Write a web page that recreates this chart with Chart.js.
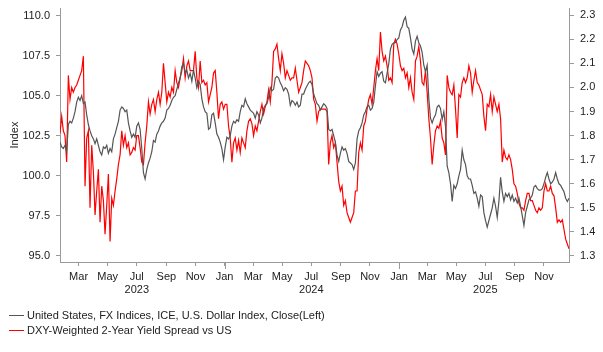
<!DOCTYPE html>
<html>
<head>
<meta charset="utf-8">
<script src="https://cdn.jsdelivr.net/npm/chart.js@4"></script>
<style>
  html, body { margin: 0; padding: 0; background: #fff; }
</style>
</head>
<body>
<canvas id="chart" width="603" height="352"></canvas>
<script>
// twice-weekly observations starting 21 Jan 2023
const startDate = Date.UTC(2023, 0, 21);
const stepDays = 3.5;
const DAY = 86400000;

const dxyClose = [
  102.1, 101.8, 101.7, 101.9, 101.5, 103.2, 103.4, 103.3, 103.6, 104.0,
  104.6, 104.9, 104.7, 105.0, 104.5, 104.6, 103.8, 103.2, 102.8, 102.5,
  102.3, 102.0, 102.3, 101.9, 101.5, 101.3, 101.8, 101.7, 101.9, 101.4,
  101.7, 101.5, 102.3, 102.6, 103.0, 103.4, 104.1, 104.3, 104.2, 104.0,
  104.1, 103.3, 102.8, 102.4, 102.6, 102.4, 103.1, 103.3, 102.9, 101.7,
  100.2, 99.8, 100.4, 100.8, 101.1, 101.5, 102.2, 102.1, 102.6, 102.8,
  103.1, 103.3, 103.4, 103.6, 104.1, 104.2, 104.4, 104.7, 104.9, 105.0,
  105.4, 105.8, 106.1, 106.8, 107.0, 106.4, 106.6, 106.1, 106.4, 105.9,
  106.6, 106.1, 105.5, 105.9, 105.7, 104.8, 104.3, 104.0, 103.9, 102.9,
  103.0, 103.8, 103.9, 103.3, 102.6, 102.4, 102.1, 101.7, 101.0, 101.8,
  102.4, 102.3, 102.5, 103.1, 103.4, 103.3, 103.5, 103.4, 104.0, 104.4,
  104.3, 104.8, 104.5, 104.3, 104.1, 104.0, 103.9, 103.6, 104.0, 103.8,
  103.3, 103.6, 104.2, 104.4, 104.5, 104.9, 105.5, 105.3, 105.4, 106.1,
  106.2, 106.1, 105.8, 105.6, 105.3, 105.5, 105.4, 105.1, 104.4, 104.7,
  104.6, 104.4, 104.6, 104.3, 104.4, 105.1, 105.1, 105.4, 105.6, 105.8,
  105.9, 105.7, 105.1, 104.8, 104.5,
  104.4, 104.1, 104.3, 104.5, 104.4, 104.2, 102.9, 102.8, 102.9, 102.5,
  102.1, 101.3, 100.9, 101.4, 101.8, 101.6, 101.7, 101.4, 100.9, 100.8,
  100.7, 100.4, 100.8, 102.3, 102.8, 103.0, 103.3, 103.8, 104.0, 104.3,
  104.4, 104.1, 104.2, 104.6, 105.6, 106.5, 106.2, 106.4, 106.5, 105.9,
  105.8, 106.4, 107.0, 107.9, 108.2, 108.3, 108.3, 108.5, 108.6, 109.1,
  109.3, 109.7, 109.9, 109.3, 109.2, 108.6, 107.9, 107.6, 108.4, 108.7,
  108.3, 108.1, 107.7, 106.9, 106.5, 106.9, 104.8, 103.6, 103.3, 103.6,
  103.8, 104.3, 104.4, 104.2, 103.5,
  104.0, 103.1, 100.6, 100.2, 99.5, 98.4, 99.4, 99.2, 99.5, 100.0,
  100.4, 101.6, 101.0, 100.7, 100.0, 99.8, 99.8, 99.4, 98.9, 99.0,
  98.6, 98.1, 98.8, 98.7, 97.7, 97.2, 96.8, 97.2, 97.6, 98.0,
  98.6, 98.1, 97.4, 98.4, 99.9, 99.0, 98.4, 98.9, 98.7, 98.9,
  98.5, 98.8, 98.4, 98.6, 98.3, 98.6, 98.1, 97.5, 96.9, 97.7,
  98.1, 98.5, 98.6, 98.8, 99.3, 99.4, 99.2, 99.1, 99.1, 99.2,
  99.5, 99.9, 100.2, 99.8, 99.5, 99.6, 99.8, 100.2, 99.8, 99.5,
  99.4, 99.2, 99.0, 98.6, 98.4, 98.6
];

const yieldSpread = [
  1.81, 1.88, 1.82, 1.80, 1.69, 2.05, 1.95, 2.00, 1.98, 2.00,
  2.01, 2.03, 2.05, 2.07, 2.13, 1.59, 1.79, 1.82, 1.50, 1.76,
  1.65, 1.47, 1.57, 1.66, 1.44, 1.59, 1.53, 1.39, 1.51, 1.64,
  1.36, 1.54, 1.51, 1.57, 1.62, 1.68, 1.72, 1.82, 1.76, 1.80,
  1.75, 1.77, 1.72, 1.73, 1.75, 1.74, 1.80, 1.80, 1.75, 1.69,
  1.68, 1.77, 1.84, 1.94, 1.89, 1.93, 1.95, 1.90, 1.95, 1.98,
  1.93, 1.98, 2.10, 2.02, 1.94, 1.98, 1.96, 2.00, 1.98, 2.07,
  2.02, 2.00, 2.04, 2.07, 2.12, 2.04, 2.09, 2.11, 2.07, 2.07,
  2.07, 2.15, 2.04, 2.00, 2.11, 2.02, 2.03, 2.01, 2.02, 1.94,
  1.97, 2.00, 2.06, 2.07, 1.98, 1.87, 1.93, 1.94, 1.91, 1.93,
  1.93, 1.84, 1.79, 1.69, 1.77, 1.79, 1.74, 1.78, 1.73, 1.79,
  1.77, 1.75, 1.82, 1.86, 1.87, 1.85, 1.80, 1.84, 1.82, 1.86,
  1.90, 1.93, 1.89, 1.92, 1.94, 1.99, 1.94, 2.02, 2.15, 2.16,
  2.18, 2.12, 2.07, 2.14, 2.10, 2.04, 2.07, 2.05, 2.03, 2.04,
  2.04, 2.08, 2.03, 1.98, 2.00, 2.02, 2.07, 2.11, 2.10, 2.09,
  2.07, 2.04, 1.95, 1.93, 1.86,
  1.90, 1.91, 1.91, 1.91, 1.91, 1.90, 1.68, 1.77, 1.80, 1.75,
  1.77, 1.69, 1.61, 1.57, 1.59, 1.51, 1.53, 1.48, 1.46, 1.44,
  1.46, 1.48, 1.57, 1.57, 1.73, 1.77, 1.74, 1.84, 1.86, 1.91,
  1.95, 1.97, 1.93, 2.00, 2.07, 2.12, 2.07, 2.23, 2.15, 2.11,
  2.13, 2.09, 2.03, 2.04, 2.02, 2.18, 2.20, 2.18, 2.14, 2.09,
  2.07, 2.08, 2.04, 2.06, 2.00, 2.04, 1.98, 1.95, 2.11, 2.13,
  2.17, 2.11, 2.02, 2.01, 2.07, 1.98, 1.87, 1.79, 1.68, 1.76,
  1.82, 1.84, 1.83, 1.86, 1.79,
  1.77, 1.72, 2.05, 2.00, 1.98, 1.97, 2.01, 1.91, 1.79, 1.97,
  1.96, 2.02, 2.04, 2.02, 2.04, 2.09, 2.06, 1.98, 2.03, 2.07,
  2.02, 2.01, 1.99, 1.97, 1.88, 1.82, 1.93, 1.92, 1.97, 1.90,
  1.96, 1.93, 1.90, 1.93, 1.87, 1.69, 1.74, 1.71, 1.70, 1.72,
  1.70, 1.66, 1.60, 1.59, 1.56, 1.52, 1.50, 1.50, 1.49, 1.53,
  1.56, 1.56, 1.53, 1.53, 1.51, 1.49, 1.48, 1.50, 1.49, 1.50,
  1.57, 1.60, 1.57, 1.57, 1.59, 1.56, 1.55, 1.50, 1.44, 1.45,
  1.44, 1.45, 1.41, 1.37, 1.35, 1.33
];

const leftTicks = [95, 97.5, 100, 102.5, 105, 107.5, 110];
const rightTicks = [1.3, 1.4, 1.5, 1.6, 1.7, 1.8, 1.9, 2.0, 2.1, 2.2, 2.3];
const tickMonths = [
  '2023-03', '2023-05', '2023-07', '2023-09', '2023-11',
  '2024-01', '2024-03', '2024-05', '2024-07', '2024-09', '2024-11',
  '2025-01', '2025-03', '2025-05', '2025-07', '2025-09', '2025-11'
];
const monthNames = ['Jan', 'Feb', 'Mar', 'Apr', 'May', 'Jun', 'Jul', 'Aug', 'Sep', 'Oct', 'Nov', 'Dec'];

const toPoints = arr => arr.map((v, i) => ({ x: startDate + i * stepDays * DAY, y: v }));
const monthStart = s => {
  const [y, m] = s.split('-').map(Number);
  return Date.UTC(y, m - 1, 1);
};

const FONT = '"Liberation Sans", Arial, sans-serif';
Chart.defaults.font.family = FONT;
Chart.defaults.font.size = 11;
Chart.defaults.color = '#222';

const AXIS_GREY = '#9a9a9a';

// January ticks are drawn a bit longer than the others
const longJanTicks = {
  id: 'longJanTicks',
  afterDraw(chart) {
    const s = chart.scales.x;
    const ctx = chart.ctx;
    ctx.save();
    ctx.strokeStyle = AXIS_GREY;
    ctx.lineWidth = 1;
    s.ticks.forEach(t => {
      if (new Date(t.value).getUTCMonth() === 0) {
        const px = Math.round(s.getPixelForValue(t.value)) + 0.5;
        ctx.beginPath();
        ctx.moveTo(px, s.top);
        ctx.lineTo(px, s.top + 7);
        ctx.stroke();
      }
    });
    ctx.restore();
  }
};

// legend under the axis, one series per row
const stackedLegend = {
  id: 'stackedLegend',
  afterDraw(chart) {
    const ctx = chart.ctx;
    ctx.save();
    ctx.font = '11px ' + FONT;
    ctx.textBaseline = 'middle';
    ctx.textAlign = 'left';
    chart.data.datasets.forEach((ds, i) => {
      const y = 315 + i * 15;
      ctx.strokeStyle = ds.borderColor;
      ctx.lineWidth = 1;
      ctx.beginPath();
      ctx.moveTo(9, y + 0.5);
      ctx.lineTo(24, y + 0.5);
      ctx.stroke();
      ctx.fillStyle = '#222';
      ctx.fillText(ds.label, 27, y + 0.5);
    });
    ctx.restore();
  }
};

// keep the y axes from pushing the plot area down
const fixYScale = width => s => {
  s.width = width;
  s.paddingTop = 0;
  s.paddingBottom = 0;
};

new Chart(document.getElementById('chart'), {
  type: 'line',
  data: {
    datasets: [
      {
        label: 'United States, FX Indices, ICE, U.S. Dollar Index, Close(Left)',
        data: toPoints(dxyClose),
        borderColor: '#555555',
        borderWidth: 1.2,
        pointRadius: 0,
        yAxisID: 'y'
      },
      {
        label: 'DXY-Weighted 2-Year Yield Spread vs US',
        data: toPoints(yieldSpread),
        borderColor: '#ff0000',
        borderWidth: 1.2,
        pointRadius: 0,
        yAxisID: 'y1'
      }
    ]
  },
  options: {
    responsive: false,
    animation: false,
    devicePixelRatio: 1,
    layout: { padding: { top: 8, left: 0, right: 0, bottom: 50 } },
    plugins: { legend: { display: false }, tooltip: { enabled: false } },
    scales: {
      x: {
        type: 'linear',
        min: startDate,
        max: startDate + (dxyClose.length - 1) * stepDays * DAY,
        afterBuildTicks: s => {
          s.ticks = tickMonths.map(m => ({ value: monthStart(m) }));
        },
        afterFit: s => { s.height = 40; },
        ticks: {
          autoSkip: false,
          maxRotation: 0,
          padding: 4,
          callback: v => {
            const d = new Date(v);
            const name = monthNames[d.getUTCMonth()];
            return d.getUTCMonth() === 6 ? [name, String(d.getUTCFullYear())] : name;
          }
        },
        grid: { drawOnChartArea: false, tickLength: 4, color: AXIS_GREY },
        border: { color: AXIS_GREY }
      },
      y: {
        position: 'left',
        min: 94.62,
        max: 110.47,
        afterBuildTicks: s => { s.ticks = leftTicks.map(v => ({ value: v })); },
        afterFit: fixYScale(60),
        ticks: { padding: 6, callback: v => v.toFixed(1) },
        grid: { drawOnChartArea: false, tickLength: 4, color: AXIS_GREY },
        border: { color: AXIS_GREY },
        title: { display: true, text: 'Index', padding: { top: 8, bottom: 0 } }
      },
      y1: {
        position: 'right',
        min: 1.275,
        max: 2.33,
        afterBuildTicks: s => { s.ticks = rightTicks.map(v => ({ value: v })); },
        afterFit: fixYScale(34),
        ticks: { padding: 6, callback: v => v.toFixed(1) },
        grid: { drawOnChartArea: false, tickLength: 5, color: AXIS_GREY },
        border: { color: AXIS_GREY }
      }
    }
  },
  plugins: [longJanTicks, stackedLegend]
});
</script>
</body>
</html>
